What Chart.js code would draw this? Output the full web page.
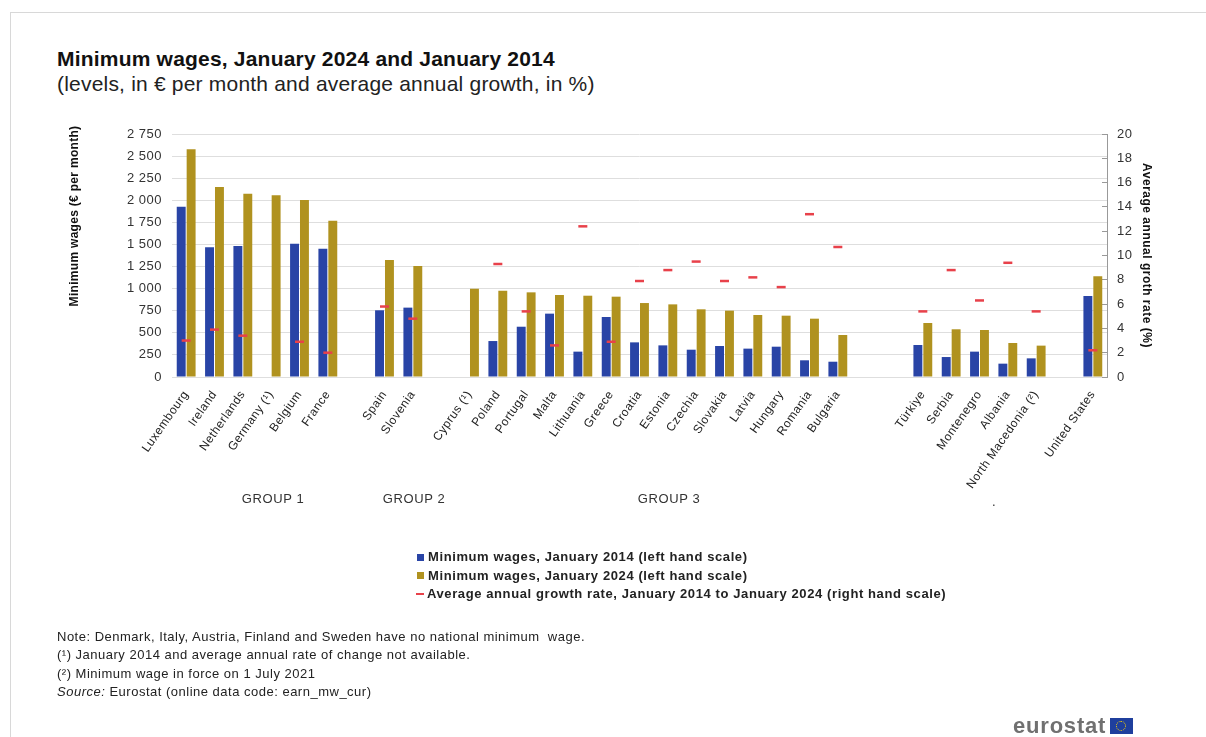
<!DOCTYPE html>
<html>
<head>
<meta charset="utf-8">
<script src="https://cdn.jsdelivr.net/npm/chart.js"></script>
<style>
  body { margin: 0; background: #fff; }
  #page { position: relative; width: 1206px; height: 737px; overflow: hidden; background: #fff;
          font-family: "Liberation Sans", Arial, sans-serif; color: #222; }
  #frame { position: absolute; left: 10px; top: 12px; width: 1300px; height: 800px;
           border-top: 1px solid #d8d8d8; border-left: 1px solid #d8d8d8; }
  #chart { position: absolute; left: 0; top: 0; }
  .title { position: absolute; left: 57px; top: 47px; font-size: 21px; line-height: 24px; font-weight: bold; color: #111; letter-spacing: 0.2px; white-space: nowrap; }
  .subtitle { position: absolute; left: 57px; top: 72px; font-size: 21px; line-height: 24px; color: #222; letter-spacing: 0.2px; white-space: nowrap; }
  .group { position: absolute; top: 491px; font-size: 13px; line-height: 16px; color: #333; letter-spacing: 0.6px; transform: translateX(-50%); white-space: nowrap; }
  #legend { position: absolute; left: 415px; top: 548px; font-size: 13px; font-weight: bold; color: #222; letter-spacing: 0.6px; }
  #legend div { height: 18.5px; line-height: 18.5px; white-space: nowrap; }
  #legend i { display: inline-block; width: 7px; height: 7px; margin: 0 4px 1px 2px; vertical-align: middle; }
  #legend i.dash { height: 2px; width: 8px; margin: 0 3px 1px 1px; }
  .notes { position: absolute; left: 57px; top: 628px; font-size: 13px; line-height: 18.3px; color: #222; letter-spacing: 0.5px; white-space: pre; }
  .logo { position: absolute; left: 1013px; top: 713px; font-size: 22px; font-weight: bold; color: #707070; line-height: 26px; letter-spacing: 0.8px; }
  .flag { position: absolute; left: 97px; top: 5px; width: 23px; height: 16px; background: #1f3f9d; }
  .flag span { position: absolute; left: 6px; top: 3px; width: 8px; height: 8px; border: 1.5px dotted #ffd500; border-radius: 50%; }
</style>
</head>
<body>
<div id="page">
  <div id="frame"></div>
  <div class="title">Minimum wages, January 2024 and January 2014</div>
  <div class="subtitle">(levels, in € per month and average annual growth, in %)</div>
  <canvas id="chart" width="1206" height="737"></canvas>
  <div class="group" style="left:273px">GROUP 1</div>
  <div class="group" style="left:414px">GROUP 2</div>
  <div class="group" style="left:669px">GROUP 3</div>
  <div class="group" style="left:994px;top:494px">.</div>
  <div id="legend"></div>
  <div class="notes">Note: Denmark, Italy, Austria, Finland and Sweden have no national minimum  wage.
(¹) January 2014 and average annual rate of change not available.
(²) Minimum wage in force on 1 July 2021
<i>Source:</i> Eurostat (online data code: earn_mw_cur)</div>
  <div class="logo">eurostat<div class="flag"><span></span></div></div>
</div>
<script>
// Categories (empty strings are the gaps between groups)
var countries = ['Luxembourg', 'Ireland', 'Netherlands', 'Germany (¹)', 'Belgium', 'France', '',
  'Spain', 'Slovenia', '',
  'Cyprus (¹)', 'Poland', 'Portugal', 'Malta', 'Lithuania', 'Greece', 'Croatia', 'Estonia',
  'Czechia', 'Slovakia', 'Latvia', 'Hungary', 'Romania', 'Bulgaria', '', '',
  'Türkiye', 'Serbia', 'Montenegro', 'Albania', 'North Macedonia (²)', '',
  'United States'];

// Minimum wages, EUR per month
var wages2014 = [1927, 1468, 1483, null, 1509, 1452, null,
  755, 785, null,
  null, 407, 569, 717, 287, 679, 392, 358, 309, 351, 321, 343, 189, 173, null, null,
  362, 226, 287, 151, 211, null,
  917];
var wages2024 = [2577, 2150, 2075, 2056, 2003, 1769, null,
  1324, 1256, null,
  1000, 977, 958, 928, 920, 909, 837, 822, 766, 751, 702, 694, 660, 475, null, null,
  611, 540, 532, 385, 355, null,
  1140];

// Average annual growth rate, %
var growth = [3.0, 3.9, 3.4, null, 2.9, 2.0, null,
  5.8, 4.8, null,
  null, 9.3, 5.4, 2.6, 12.4, 2.9, 7.9, 8.8, 9.5, 7.9, 8.2, 7.4, 13.4, 10.7, null, null,
  5.4, 8.8, 6.3, 9.4, 5.4, null,
  2.2];

var leftTicksMax = 2750, leftStep = 250;
var rightTicksMax = 20, rightStep = 2;

var blue = '#2944a6';
var gold = '#b0921f';
var red = '#e8414a';

var seriesNames = [
  'Minimum wages, January 2014 (left hand scale)',
  'Minimum wages, January 2024 (left hand scale)',
  'Average annual growth rate, January 2014 to January 2024 (right hand scale)'
];

Chart.defaults.font.family = '"Liberation Sans", Arial, sans-serif';
Chart.defaults.color = '#333';

function spaced(v) {
  return String(v).replace(/\B(?=(\d{3})+(?!\d))/g, ' ');
}

// Slightly wider lettering, like the original
var wideText = {
  id: 'wideText',
  beforeDraw: function(chart) {
    chart.ctx.letterSpacing = '0.5px';
  }
};

// Left axis title sits higher than the axis middle in the original
var leftTitle = {
  id: 'leftTitle',
  afterDraw: function(chart) {
    var ctx = chart.ctx;
    ctx.save();
    ctx.translate(75, 216);
    ctx.rotate(-Math.PI / 2);
    ctx.letterSpacing = '0.3px';
    ctx.font = 'bold 12px "Liberation Sans", Arial, sans-serif';
    ctx.fillStyle = '#111';
    ctx.textAlign = 'center';
    ctx.textBaseline = 'middle';
    ctx.fillText('Minimum wages (€ per month)', 0, 0);
    ctx.restore();
  }
};

var chart = new Chart(document.getElementById('chart'), {
  type: 'bar',
  data: {
    labels: countries,
    datasets: [
      {
        label: seriesNames[0],
        data: wages2014,
        backgroundColor: blue,
        yAxisID: 'y',
        order: 1,
        categoryPercentage: 0.7,
        barPercentage: 0.9
      },
      {
        label: seriesNames[1],
        data: wages2024,
        backgroundColor: gold,
        yAxisID: 'y',
        order: 1,
        categoryPercentage: 0.7,
        barPercentage: 0.9
      },
      {
        type: 'line',
        label: seriesNames[2],
        data: growth,
        yAxisID: 'y1',
        showLine: false,
        pointStyle: 'line',
        pointRadius: 4.5,
        pointHoverRadius: 4.5,
        pointBorderWidth: 2.5,
        borderColor: red,
        backgroundColor: red,
        order: 0
      }
    ]
  },
  options: {
    responsive: false,
    animation: false,
    layout: { padding: { top: 134, right: 48, bottom: 230, left: 0 } },
    plugins: {
      legend: { display: false },
      tooltip: { enabled: false }
    },
    scales: {
      x: {
        grid: { display: false },
        border: { display: false },
        ticks: {
          autoSkip: false,
          minRotation: 55,
          maxRotation: 55,
          padding: 3,
          color: '#222',
          font: { size: 12 }
        },
        afterFit: function(scale) { scale.height = 130; }
      },
      y: {
        position: 'left',
        min: 0,
        max: leftTicksMax,
        grid: { color: '#dedede', drawTicks: false },
        border: { display: false },
        ticks: {
          stepSize: leftStep,
          padding: 10,
          color: '#333',
          font: { size: 13 },
          callback: function(v) { return spaced(v); }
        },
        afterFit: function(scale) { scale.width = 172; }
      },
      y1: {
        position: 'right',
        min: 0,
        max: rightTicksMax,
        grid: { drawOnChartArea: false, drawTicks: true, tickLength: -5, color: '#999' },
        border: { display: true, color: '#999' },
        ticks: {
          stepSize: rightStep,
          padding: 15,
          color: '#333',
          font: { size: 13 }
        },
        title: {
          display: true,
          text: 'Average annual groth rate (%)',
          color: '#111',
          font: { size: 12, weight: 'bold' },
          padding: { top: 4, bottom: 0 }
        },
        afterFit: function(scale) { scale.width = 51; }
      }
    }
  },
  plugins: [wideText, leftTitle]
});

// Legend built from the chart datasets
var legendEl = document.getElementById('legend');
chart.data.datasets.forEach(function(ds) {
  var row = document.createElement('div');
  var mark = document.createElement('i');
  if (ds.type === 'line') {
    mark.className = 'dash';
    mark.style.background = ds.borderColor;
  } else {
    mark.style.background = ds.backgroundColor;
  }
  row.appendChild(mark);
  row.appendChild(document.createTextNode(ds.label));
  legendEl.appendChild(row);
});
</script>
</body>
</html>
